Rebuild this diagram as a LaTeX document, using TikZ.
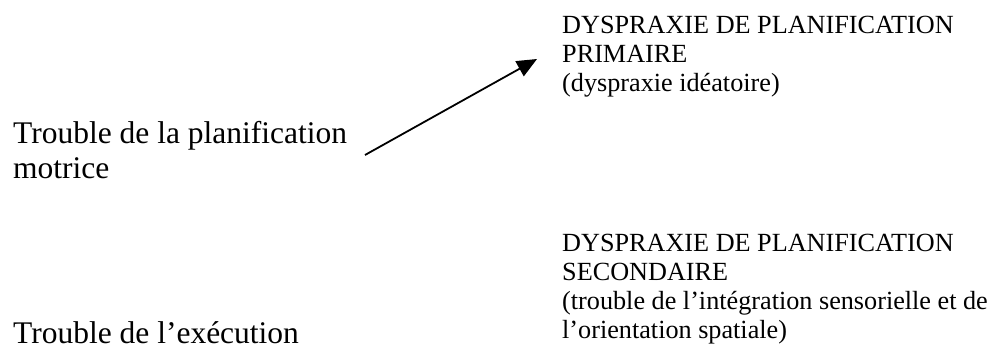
\documentclass[tikz,border=0pt]{standalone}
\usepackage{fontspec}
\setmainfont{Liberation Serif}
\usetikzlibrary{arrows.meta}
\tikzset{
  bigtxt/.style={inner sep=0pt, anchor=base west, align=left, font=\fontsize{31.5}{35}\selectfont},
  smalltxt/.style={inner sep=0pt, anchor=base west, align=left, font=\fontsize{26.2}{28.8}\selectfont},
  link/.style={line width=1.8pt, -{Triangle[length=20pt,width=17pt]}}
}
\begin{document}
\begin{tikzpicture}[x=1pt,y=1pt]
\useasboundingbox (0,0) rectangle (993,-349);
% base anchor of a multi-line node = baseline of its last line
\node[bigtxt] (lt) at (13,-178) {Trouble de la planification\\motrice};
\node[bigtxt] (lb) at (13,-343) {Trouble de l’exécution};
\node[smalltxt] (rt) at (562,-91) {DYSPRAXIE DE PLANIFICATION\\PRIMAIRE\\(dyspraxie idéatoire)};
\node[smalltxt] (rb) at (562,-338) {DYSPRAXIE DE PLANIFICATION\\SECONDAIRE\\(trouble de l’intégration sensorielle et de\\l’orientation spatiale)};
\coordinate (a1) at (365,-155);
\coordinate (a2) at (537,-59);
\draw[link] (a1) -- (a2);
\end{tikzpicture}
\end{document}
